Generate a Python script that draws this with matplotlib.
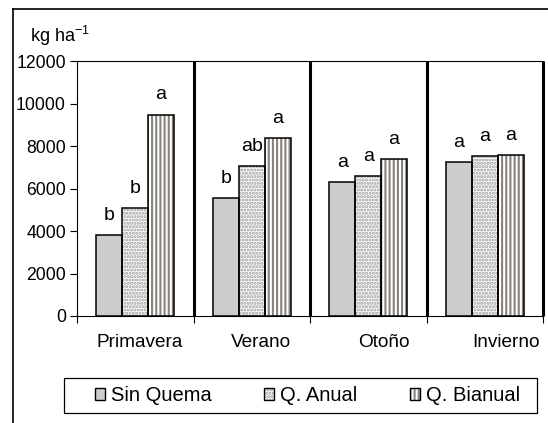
import matplotlib
matplotlib.use("Agg")
import matplotlib.pyplot as plt
from matplotlib.patches import Patch, Rectangle
from matplotlib.lines import Line2D
from matplotlib.transforms import ScaledTranslation
import numpy as np

plt.rcParams['font.family'] = ['Liberation Sans', 'DejaVu Sans']
plt.rcParams['hatch.linewidth'] = 1.5
plt.rcParams['axes.unicode_minus'] = False

# data
seasons = ["Primavera", "Verano", "Otoño", "Invierno"]
series = ["Sin Quema", "Q. Anual", "Q. Bianual"]
sin_quema = [3800, 5550, 6300, 7250]
q_anual = [5100, 7050, 6600, 7550]
q_bianual = [9500, 8400, 7400, 7600]
letters_sq = ["b", "b", "a", "a"]
letters_qa = ["b", "ab", "a", "a"]
letters_qb = ["a", "a", "a", "a"]

W, H = 548, 423
fig = plt.figure(figsize=(W / 100, H / 100), dpi=100)
ax = fig.add_axes([77 / W, 1 - 316 / H, (543 - 77) / W, (316 - 61.5) / H])

x = np.arange(len(seasons))
bw = 0.222
styles = [
    dict(face="#cccccc", hatch=None, hcol="#cccccc"),
    dict(face="white", hatch=".....", hcol="#9c9c9c"),
    dict(face="white", hatch="||||", hcol="#88827a"),
]
values = [sin_quema, q_anual, q_bianual]
letters = [letters_sq, letters_qa, letters_qb]

handles = []
for i, (vals, st, lab) in enumerate(zip(values, styles, letters)):
    pos = x + (i - 1) * bw
    ax.bar(pos, vals, bw, color=st["face"], edgecolor=st["hcol"], linewidth=0,
           hatch=st["hatch"], zorder=2)
    ax.bar(pos, vals, bw, facecolor="none", edgecolor="black", linewidth=1.1, zorder=3)
    for px, v, t in zip(pos, vals, lab):
        ax.annotate(t, (px, v), xytext=(0, 8), textcoords="offset points",
                    ha="center", va="bottom", fontsize=14)
    h1 = Patch(facecolor=st["face"], edgecolor=st["hcol"], linewidth=0, hatch=st["hatch"])
    h2 = Patch(facecolor="none", edgecolor="black", linewidth=1.0)
    handles.append((h1, h2))

ax.set_xlim(-0.5, 3.5)
ax.set_ylim(0, 12000)
ax.set_yticks(np.arange(0, 12001, 2000))
ax.tick_params(axis="y", length=5, width=0.8, pad=3, labelsize=12.7)

ax.set_xticks([-0.5, 0.5, 1.5, 2.5, 3.5])
ax.set_xticklabels([])
ax.set_xticks(x, minor=True)
ax.set_xticklabels(seasons, minor=True)
ax.tick_params(axis="x", which="major", length=5, width=0.8)
ax.tick_params(axis="x", which="minor", length=0, pad=13, labelsize=13.7)
for i, t in enumerate(ax.get_xticklabels(minor=True)):
    t.set_transform(t.get_transform() + ScaledTranslation((4 + 5.7 * i) / 100, 0, fig.dpi_scale_trans))

ax.vlines([0.5, 1.5, 2.5, 3.5], 0, 12000, colors="black", linewidth=2.2, clip_on=False, zorder=4)
ax.spines["right"].set_visible(False)
for s in ["left", "top", "bottom"]:
    ax.spines[s].set_linewidth(0.8)

fig.text(30 / W, 1 - 42 / H, r"kg ha$^{\mathregular{-1}}$", fontsize=13, ha="left", va="baseline")

leg = fig.legend(handles, series, loc="center", bbox_to_anchor=(307.5 / W, 1 - 395.5 / H),
                 ncol=3, frameon=False, fontsize=14.5, handlelength=0.5, handleheight=0.5,
                 handletextpad=0.3, columnspacing=2.6)
fig.patches.append(Rectangle((64 / W, 1 - 413 / H), (537 - 64) / W, 35 / H,
                             transform=fig.transFigure, fill=False, edgecolor="black", linewidth=0.9))

# outer frame of the chart area
fig.lines.append(Line2D([13 / W, 1], [1 - 9 / H, 1 - 9 / H], transform=fig.transFigure, color="black", lw=1.2))
fig.lines.append(Line2D([13 / W, 13 / W], [0, 1 - 9 / H], transform=fig.transFigure, color="black", lw=1.2))

fig.savefig("out.png", dpi=100)
